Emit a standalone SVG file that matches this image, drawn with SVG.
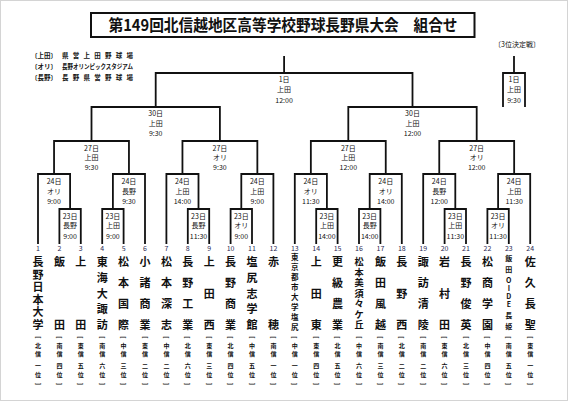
<svg xmlns="http://www.w3.org/2000/svg" width="568" height="401" viewBox="0 0 568 401">
<style>
text{font-family:"Noto Sans CJK JP","Noto Sans CJK SC",sans-serif;fill:#111}
.ln{fill:none;stroke:#111;stroke-width:1.8;stroke-linecap:square}
.mt{font-size:7px;text-anchor:middle}
.num{font-size:7px;text-anchor:middle;fill:#2a2a55}
.nm{font-size:11px;font-weight:700;text-anchor:middle}
.sb{font-size:6px;font-weight:700;text-anchor:middle}
.br{font-size:6px;font-weight:700;text-anchor:middle;dominant-baseline:central}
.lg{font-size:6.5px;font-weight:700}
</style>
<rect width="568" height="401" fill="#fff"/>
<rect x="0.5" y="0.5" width="567" height="400" fill="none" stroke="#d4d4d4" stroke-width="1"/>
<g id="title">
<rect x="91" y="13" width="383.5" height="24" fill="none" stroke="#111" stroke-width="2"/>
<text x="283" y="31" font-size="16" font-weight="700" text-anchor="middle" textLength="349" lengthAdjust="spacingAndGlyphs">第149回北信越地区高等学校野球長野県大会　組合せ</text>
</g>
<g id="legend">
<text class="lg" x="31" y="57.5">〔上田〕</text><text class="lg" x="62" y="57.5" textLength="71" lengthAdjust="spacing">県営上田野球場</text>
<text class="lg" x="31" y="68.5">〔オリ〕</text><text class="lg" x="62" y="68.5" textLength="71" lengthAdjust="spacingAndGlyphs">長野オリンピックスタジアム</text>
<text class="lg" x="31" y="79.5">〔長野〕</text><text class="lg" x="62" y="79.5" textLength="71" lengthAdjust="spacing">長野県営野球場</text>
</g>
<g id="connectors">
<path class="ln" d="M284.1,57V73M155.7,107V73H412.5V107"/>
<path class="ln" d="M514,57V73M503,106V73H525V106"/>
<path class="ln" d="M91.5,141V107H219.9V141M348.3,141V107H476.7V141"/>
<path class="ln" d="M54.05,174V141H128.95V174M182.45,174V141H257.35V174M310.85,174V141H385.75V174M439.25,174V141H514.15V174"/>
<path class="ln" d="M38,243V174H70.1V209M112.9,209V174H145V243M166.4,243V174H198.5V209M241.3,209V174H273.4V243M294.8,243V174H326.9V209M369.7,209V174H401.8V243M423.2,243V174H455.3V209M498.1,209V174H530.2V243"/>
<path class="ln" d="M59.4,243V209H80.8V243M102.2,243V209H123.6V243M187.8,243V209H209.2V243M230.6,243V209H252V243M316.2,243V209H337.6V243M359,243V209H380.4V243M444.6,243V209H466V243M487.4,243V209H508.8V243"/>
</g>
<g id="third">
<text class="mt" x="517" y="46.5">〔3位決定戦〕</text>
<text class="mt" x="514" y="81.5">1日</text><text class="mt" x="514" y="91.5">上田</text><text class="mt" x="514" y="102.5">9:30</text>
</g>
<g id="m-final"><text class="mt" x="284.1" y="81.5">1日</text><text class="mt" x="284.1" y="91.5">上田</text><text class="mt" x="284.1" y="102.5">12:00</text></g>
<g id="m-s1"><text class="mt" x="155.7" y="115.5">30日</text><text class="mt" x="155.7" y="125.5">上田</text><text class="mt" x="155.7" y="135.5">9:30</text></g>
<g id="m-s2"><text class="mt" x="412.5" y="115.5">30日</text><text class="mt" x="412.5" y="125.5">上田</text><text class="mt" x="412.5" y="135.5">12:00</text></g>
<g id="m-q1"><text class="mt" x="91.5" y="150.5">27日</text><text class="mt" x="91.5" y="159.8">上田</text><text class="mt" x="91.5" y="169.5">9:30</text></g>
<g id="m-q2"><text class="mt" x="219.9" y="150.5">27日</text><text class="mt" x="219.9" y="159.8">オリ</text><text class="mt" x="219.9" y="169.5">9:30</text></g>
<g id="m-q3"><text class="mt" x="348.3" y="150.5">27日</text><text class="mt" x="348.3" y="159.8">上田</text><text class="mt" x="348.3" y="169.5">12:00</text></g>
<g id="m-q4"><text class="mt" x="476.7" y="150.5">27日</text><text class="mt" x="476.7" y="159.8">オリ</text><text class="mt" x="476.7" y="169.5">12:00</text></g>
<g id="m-r1"><text class="mt" x="54.05" y="183.5">24日</text><text class="mt" x="54.05" y="193.5">オリ</text><text class="mt" x="54.05" y="203.5">9:00</text></g>
<g id="m-r2"><text class="mt" x="128.95" y="183.5">24日</text><text class="mt" x="128.95" y="193.5">長野</text><text class="mt" x="128.95" y="203.5">9:30</text></g>
<g id="m-r3"><text class="mt" x="182.45" y="183.5">24日</text><text class="mt" x="182.45" y="193.5">上田</text><text class="mt" x="182.45" y="203.5">14:00</text></g>
<g id="m-r4"><text class="mt" x="257.35" y="183.5">24日</text><text class="mt" x="257.35" y="193.5">上田</text><text class="mt" x="257.35" y="203.5">9:00</text></g>
<g id="m-r5"><text class="mt" x="310.85" y="183.5">24日</text><text class="mt" x="310.85" y="193.5">オリ</text><text class="mt" x="310.85" y="203.5">11:30</text></g>
<g id="m-r6"><text class="mt" x="385.75" y="183.5">24日</text><text class="mt" x="385.75" y="193.5">オリ</text><text class="mt" x="385.75" y="203.5">14:00</text></g>
<g id="m-r7"><text class="mt" x="439.25" y="183.5">24日</text><text class="mt" x="439.25" y="193.5">長野</text><text class="mt" x="439.25" y="203.5">12:00</text></g>
<g id="m-r8"><text class="mt" x="514.15" y="183.5">24日</text><text class="mt" x="514.15" y="193.5">上田</text><text class="mt" x="514.15" y="203.5">11:30</text></g>
<g id="m-p1"><text class="mt" x="70.1" y="218.5">23日</text><text class="mt" x="70.1" y="228">長野</text><text class="mt" x="70.1" y="238.5">9:00</text></g>
<g id="m-p2"><text class="mt" x="112.9" y="218.5">23日</text><text class="mt" x="112.9" y="228">上田</text><text class="mt" x="112.9" y="238.5">9:00</text></g>
<g id="m-p3"><text class="mt" x="198.5" y="218.5">23日</text><text class="mt" x="198.5" y="228">長野</text><text class="mt" x="198.5" y="238.5">11:30</text></g>
<g id="m-p4"><text class="mt" x="241.3" y="218.5">23日</text><text class="mt" x="241.3" y="228">オリ</text><text class="mt" x="241.3" y="238.5">9:00</text></g>
<g id="m-p5"><text class="mt" x="326.9" y="218.5">23日</text><text class="mt" x="326.9" y="228">上田</text><text class="mt" x="326.9" y="238.5">14:00</text></g>
<g id="m-p6"><text class="mt" x="369.7" y="218.5">23日</text><text class="mt" x="369.7" y="228">長野</text><text class="mt" x="369.7" y="238.5">14:00</text></g>
<g id="m-p7"><text class="mt" x="455.3" y="218.5">23日</text><text class="mt" x="455.3" y="228">上田</text><text class="mt" x="455.3" y="238.5">11:30</text></g>
<g id="m-p8"><text class="mt" x="498.1" y="218.5">23日</text><text class="mt" x="498.1" y="228">オリ</text><text class="mt" x="498.1" y="238.5">11:30</text></g>

<g id="team1"><text class="num" x="38" y="250.5">1</text><text class="nm" x="38" y="266">長</text><text class="nm" x="38" y="278.6">野</text><text class="nm" x="38" y="291.2">日</text><text class="nm" x="38" y="303.8">本</text><text class="nm" x="38" y="316.4">大</text><text class="nm" x="38" y="329">学</text><text class="br" x="38" y="337.5" transform="rotate(90 38 337.5)">[</text><text class="sb" x="38" y="347.8">北</text><text class="sb" x="38" y="355.8">信</text><text class="sb" x="38" y="368.3">一</text><text class="sb" x="38" y="376.8">位</text><text class="br" x="38" y="384" transform="rotate(90 38 384)">]</text></g>
<g id="team2"><text class="num" x="59.4" y="250.5">2</text><text class="nm" x="59.4" y="266">飯</text><text class="nm" x="59.4" y="329">田</text><text class="br" x="59.4" y="337.5" transform="rotate(90 59.4 337.5)">[</text><text class="sb" x="59.4" y="347.8">南</text><text class="sb" x="59.4" y="355.8">信</text><text class="sb" x="59.4" y="368.3">四</text><text class="sb" x="59.4" y="376.8">位</text><text class="br" x="59.4" y="384" transform="rotate(90 59.4 384)">]</text></g>
<g id="team3"><text class="num" x="80.8" y="250.5">3</text><text class="nm" x="80.8" y="266">上</text><text class="nm" x="80.8" y="329">田</text><text class="br" x="80.8" y="337.5" transform="rotate(90 80.8 337.5)">[</text><text class="sb" x="80.8" y="347.8">東</text><text class="sb" x="80.8" y="355.8">信</text><text class="sb" x="80.8" y="368.3">五</text><text class="sb" x="80.8" y="376.8">位</text><text class="br" x="80.8" y="384" transform="rotate(90 80.8 384)">]</text></g>
<g id="team4"><text class="num" x="102.2" y="250.5">4</text><text class="nm" x="102.2" y="266">東</text><text class="nm" x="102.2" y="281.75">海</text><text class="nm" x="102.2" y="297.5">大</text><text class="nm" x="102.2" y="313.25">諏</text><text class="nm" x="102.2" y="329">訪</text><text class="br" x="102.2" y="337.5" transform="rotate(90 102.2 337.5)">[</text><text class="sb" x="102.2" y="347.8">南</text><text class="sb" x="102.2" y="355.8">信</text><text class="sb" x="102.2" y="368.3">六</text><text class="sb" x="102.2" y="376.8">位</text><text class="br" x="102.2" y="384" transform="rotate(90 102.2 384)">]</text></g>
<g id="team5"><text class="num" x="123.6" y="250.5">5</text><text class="nm" x="123.6" y="266">松</text><text class="nm" x="123.6" y="287">本</text><text class="nm" x="123.6" y="308">国</text><text class="nm" x="123.6" y="329">際</text><text class="br" x="123.6" y="337.5" transform="rotate(90 123.6 337.5)">[</text><text class="sb" x="123.6" y="347.8">中</text><text class="sb" x="123.6" y="355.8">信</text><text class="sb" x="123.6" y="368.3">三</text><text class="sb" x="123.6" y="376.8">位</text><text class="br" x="123.6" y="384" transform="rotate(90 123.6 384)">]</text></g>
<g id="team6"><text class="num" x="145" y="250.5">6</text><text class="nm" x="145" y="266">小</text><text class="nm" x="145" y="287">諸</text><text class="nm" x="145" y="308">商</text><text class="nm" x="145" y="329">業</text><text class="br" x="145" y="337.5" transform="rotate(90 145 337.5)">[</text><text class="sb" x="145" y="347.8">東</text><text class="sb" x="145" y="355.8">信</text><text class="sb" x="145" y="368.3">二</text><text class="sb" x="145" y="376.8">位</text><text class="br" x="145" y="384" transform="rotate(90 145 384)">]</text></g>
<g id="team7"><text class="num" x="166.4" y="250.5">7</text><text class="nm" x="166.4" y="266">松</text><text class="nm" x="166.4" y="287">本</text><text class="nm" x="166.4" y="308">深</text><text class="nm" x="166.4" y="329">志</text><text class="br" x="166.4" y="337.5" transform="rotate(90 166.4 337.5)">[</text><text class="sb" x="166.4" y="347.8">中</text><text class="sb" x="166.4" y="355.8">信</text><text class="sb" x="166.4" y="368.3">二</text><text class="sb" x="166.4" y="376.8">位</text><text class="br" x="166.4" y="384" transform="rotate(90 166.4 384)">]</text></g>
<g id="team8"><text class="num" x="187.8" y="250.5">8</text><text class="nm" x="187.8" y="266">長</text><text class="nm" x="187.8" y="287">野</text><text class="nm" x="187.8" y="308">工</text><text class="nm" x="187.8" y="329">業</text><text class="br" x="187.8" y="337.5" transform="rotate(90 187.8 337.5)">[</text><text class="sb" x="187.8" y="347.8">北</text><text class="sb" x="187.8" y="355.8">信</text><text class="sb" x="187.8" y="368.3">六</text><text class="sb" x="187.8" y="376.8">位</text><text class="br" x="187.8" y="384" transform="rotate(90 187.8 384)">]</text></g>
<g id="team9"><text class="num" x="209.2" y="250.5">9</text><text class="nm" x="209.2" y="266">上</text><text class="nm" x="209.2" y="297.5">田</text><text class="nm" x="209.2" y="329">西</text><text class="br" x="209.2" y="337.5" transform="rotate(90 209.2 337.5)">[</text><text class="sb" x="209.2" y="347.8">東</text><text class="sb" x="209.2" y="355.8">信</text><text class="sb" x="209.2" y="368.3">三</text><text class="sb" x="209.2" y="376.8">位</text><text class="br" x="209.2" y="384" transform="rotate(90 209.2 384)">]</text></g>
<g id="team10"><text class="num" x="230.6" y="250.5">10</text><text class="nm" x="230.6" y="266">長</text><text class="nm" x="230.6" y="287">野</text><text class="nm" x="230.6" y="308">商</text><text class="nm" x="230.6" y="329">業</text><text class="br" x="230.6" y="337.5" transform="rotate(90 230.6 337.5)">[</text><text class="sb" x="230.6" y="347.8">北</text><text class="sb" x="230.6" y="355.8">信</text><text class="sb" x="230.6" y="368.3">四</text><text class="sb" x="230.6" y="376.8">位</text><text class="br" x="230.6" y="384" transform="rotate(90 230.6 384)">]</text></g>
<g id="team11"><text class="num" x="252" y="250.5">11</text><text class="nm" x="252" y="266">塩</text><text class="nm" x="252" y="281.75">尻</text><text class="nm" x="252" y="297.5">志</text><text class="nm" x="252" y="313.25">学</text><text class="nm" x="252" y="329">館</text><text class="br" x="252" y="337.5" transform="rotate(90 252 337.5)">[</text><text class="sb" x="252" y="347.8">中</text><text class="sb" x="252" y="355.8">信</text><text class="sb" x="252" y="368.3">五</text><text class="sb" x="252" y="376.8">位</text><text class="br" x="252" y="384" transform="rotate(90 252 384)">]</text></g>
<g id="team12"><text class="num" x="273.4" y="250.5">12</text><text class="nm" x="273.4" y="266">赤</text><text class="nm" x="273.4" y="329">穂</text><text class="br" x="273.4" y="337.5" transform="rotate(90 273.4 337.5)">[</text><text class="sb" x="273.4" y="347.8">南</text><text class="sb" x="273.4" y="355.8">信</text><text class="sb" x="273.4" y="368.3">一</text><text class="sb" x="273.4" y="376.8">位</text><text class="br" x="273.4" y="384" transform="rotate(90 273.4 384)">]</text></g>
<g id="team13"><text class="num" x="294.8" y="250.5">13</text><text class="nm" style="font-size:7.5px" x="294.8" y="259.8">東</text><text class="nm" style="font-size:7.5px" x="294.8" y="269.8">京</text><text class="nm" style="font-size:7.5px" x="294.8" y="279.8">都</text><text class="nm" style="font-size:7.5px" x="294.8" y="289.8">市</text><text class="nm" style="font-size:7.5px" x="294.8" y="299.8">大</text><text class="nm" style="font-size:7.5px" x="294.8" y="309.8">学</text><text class="nm" style="font-size:7.5px" x="294.8" y="319.8">塩</text><text class="nm" style="font-size:7.5px" x="294.8" y="329.8">尻</text><text class="br" x="294.8" y="337.5" transform="rotate(90 294.8 337.5)">[</text><text class="sb" x="294.8" y="347.8">中</text><text class="sb" x="294.8" y="355.8">信</text><text class="sb" x="294.8" y="368.3">一</text><text class="sb" x="294.8" y="376.8">位</text><text class="br" x="294.8" y="384" transform="rotate(90 294.8 384)">]</text></g>
<g id="team14"><text class="num" x="316.2" y="250.5">14</text><text class="nm" x="316.2" y="266">上</text><text class="nm" x="316.2" y="297.5">田</text><text class="nm" x="316.2" y="329">東</text><text class="br" x="316.2" y="337.5" transform="rotate(90 316.2 337.5)">[</text><text class="sb" x="316.2" y="347.8">東</text><text class="sb" x="316.2" y="355.8">信</text><text class="sb" x="316.2" y="368.3">四</text><text class="sb" x="316.2" y="376.8">位</text><text class="br" x="316.2" y="384" transform="rotate(90 316.2 384)">]</text></g>
<g id="team15"><text class="num" x="337.6" y="250.5">15</text><text class="nm" x="337.6" y="266">更</text><text class="nm" x="337.6" y="287">級</text><text class="nm" x="337.6" y="308">農</text><text class="nm" x="337.6" y="329">業</text><text class="br" x="337.6" y="337.5" transform="rotate(90 337.6 337.5)">[</text><text class="sb" x="337.6" y="347.8">北</text><text class="sb" x="337.6" y="355.8">信</text><text class="sb" x="337.6" y="368.3">五</text><text class="sb" x="337.6" y="376.8">位</text><text class="br" x="337.6" y="384" transform="rotate(90 337.6 384)">]</text></g>
<g id="team16"><text class="num" x="359" y="250.5">16</text><text class="nm" style="font-size:9.2px" x="359" y="265.4">松</text><text class="nm" style="font-size:9.2px" x="359" y="275.9">本</text><text class="nm" style="font-size:9.2px" x="359" y="286.4">美</text><text class="nm" style="font-size:9.2px" x="359" y="296.9">須</text><text class="nm" style="font-size:9.2px" x="359" y="307.4">々</text><text class="nm" style="font-size:9.2px" x="359" y="317.9">ケ</text><text class="nm" style="font-size:9.2px" x="359" y="328.4">丘</text><text class="br" x="359" y="337.5" transform="rotate(90 359 337.5)">[</text><text class="sb" x="359" y="347.8">中</text><text class="sb" x="359" y="355.8">信</text><text class="sb" x="359" y="368.3">六</text><text class="sb" x="359" y="376.8">位</text><text class="br" x="359" y="384" transform="rotate(90 359 384)">]</text></g>
<g id="team17"><text class="num" x="380.4" y="250.5">17</text><text class="nm" x="380.4" y="266">飯</text><text class="nm" x="380.4" y="287">田</text><text class="nm" x="380.4" y="308">風</text><text class="nm" x="380.4" y="329">越</text><text class="br" x="380.4" y="337.5" transform="rotate(90 380.4 337.5)">[</text><text class="sb" x="380.4" y="347.8">南</text><text class="sb" x="380.4" y="355.8">信</text><text class="sb" x="380.4" y="368.3">三</text><text class="sb" x="380.4" y="376.8">位</text><text class="br" x="380.4" y="384" transform="rotate(90 380.4 384)">]</text></g>
<g id="team18"><text class="num" x="401.8" y="250.5">18</text><text class="nm" x="401.8" y="266">長</text><text class="nm" x="401.8" y="297.5">野</text><text class="nm" x="401.8" y="329">西</text><text class="br" x="401.8" y="337.5" transform="rotate(90 401.8 337.5)">[</text><text class="sb" x="401.8" y="347.8">北</text><text class="sb" x="401.8" y="355.8">信</text><text class="sb" x="401.8" y="368.3">二</text><text class="sb" x="401.8" y="376.8">位</text><text class="br" x="401.8" y="384" transform="rotate(90 401.8 384)">]</text></g>
<g id="team19"><text class="num" x="423.2" y="250.5">19</text><text class="nm" x="423.2" y="266">諏</text><text class="nm" x="423.2" y="287">訪</text><text class="nm" x="423.2" y="308">清</text><text class="nm" x="423.2" y="329">陵</text><text class="br" x="423.2" y="337.5" transform="rotate(90 423.2 337.5)">[</text><text class="sb" x="423.2" y="347.8">南</text><text class="sb" x="423.2" y="355.8">信</text><text class="sb" x="423.2" y="368.3">二</text><text class="sb" x="423.2" y="376.8">位</text><text class="br" x="423.2" y="384" transform="rotate(90 423.2 384)">]</text></g>
<g id="team20"><text class="num" x="444.6" y="250.5">20</text><text class="nm" x="444.6" y="266">岩</text><text class="nm" x="444.6" y="297.5">村</text><text class="nm" x="444.6" y="329">田</text><text class="br" x="444.6" y="337.5" transform="rotate(90 444.6 337.5)">[</text><text class="sb" x="444.6" y="347.8">東</text><text class="sb" x="444.6" y="355.8">信</text><text class="sb" x="444.6" y="368.3">六</text><text class="sb" x="444.6" y="376.8">位</text><text class="br" x="444.6" y="384" transform="rotate(90 444.6 384)">]</text></g>
<g id="team21"><text class="num" x="466" y="250.5">21</text><text class="nm" x="466" y="266">長</text><text class="nm" x="466" y="287">野</text><text class="nm" x="466" y="308">俊</text><text class="nm" x="466" y="329">英</text><text class="br" x="466" y="337.5" transform="rotate(90 466 337.5)">[</text><text class="sb" x="466" y="347.8">北</text><text class="sb" x="466" y="355.8">信</text><text class="sb" x="466" y="368.3">三</text><text class="sb" x="466" y="376.8">位</text><text class="br" x="466" y="384" transform="rotate(90 466 384)">]</text></g>
<g id="team22"><text class="num" x="487.4" y="250.5">22</text><text class="nm" x="487.4" y="266">松</text><text class="nm" x="487.4" y="287">商</text><text class="nm" x="487.4" y="308">学</text><text class="nm" x="487.4" y="329">園</text><text class="br" x="487.4" y="337.5" transform="rotate(90 487.4 337.5)">[</text><text class="sb" x="487.4" y="347.8">中</text><text class="sb" x="487.4" y="355.8">信</text><text class="sb" x="487.4" y="368.3">四</text><text class="sb" x="487.4" y="376.8">位</text><text class="br" x="487.4" y="384" transform="rotate(90 487.4 384)">]</text></g>
<g id="team23"><text class="num" x="508.8" y="250.5">23</text><text class="nm" style="font-size:7px" x="508.8" y="260.7">飯</text><text class="nm" style="font-size:7px" x="508.8" y="271.7">田</text><text class="nm" style="font-size:7px" x="508.8" y="282.5">O</text><text class="nm" style="font-size:7px" x="508.8" y="290.5">I</text><text class="nm" style="font-size:7px" x="508.8" y="298.5">D</text><text class="nm" style="font-size:7px" x="508.8" y="306.5">E</text><text class="nm" style="font-size:7px" x="508.8" y="317.7">長</text><text class="nm" style="font-size:7px" x="508.8" y="328.7">姫</text><text class="br" x="508.8" y="337.5" transform="rotate(90 508.8 337.5)">[</text><text class="sb" x="508.8" y="347.8">南</text><text class="sb" x="508.8" y="355.8">信</text><text class="sb" x="508.8" y="368.3">五</text><text class="sb" x="508.8" y="376.8">位</text><text class="br" x="508.8" y="384" transform="rotate(90 508.8 384)">]</text></g>
<g id="team24"><text class="num" x="530.2" y="250.5">24</text><text class="nm" x="530.2" y="266">佐</text><text class="nm" x="530.2" y="287">久</text><text class="nm" x="530.2" y="308">長</text><text class="nm" x="530.2" y="329">聖</text><text class="br" x="530.2" y="337.5" transform="rotate(90 530.2 337.5)">[</text><text class="sb" x="530.2" y="347.8">東</text><text class="sb" x="530.2" y="355.8">信</text><text class="sb" x="530.2" y="368.3">一</text><text class="sb" x="530.2" y="376.8">位</text><text class="br" x="530.2" y="384" transform="rotate(90 530.2 384)">]</text></g>
</svg>
